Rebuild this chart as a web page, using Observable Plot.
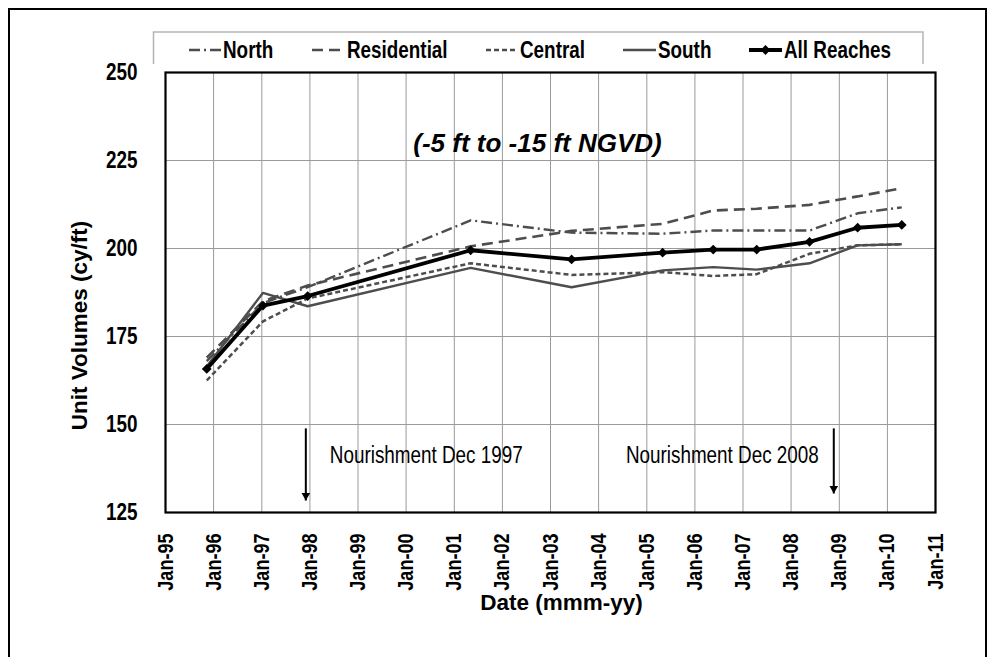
<!DOCTYPE html>
<html><head><meta charset="utf-8">
<script src="https://cdn.jsdelivr.net/npm/d3@7"></script>
<script src="https://cdn.jsdelivr.net/npm/@observablehq/plot@0.6"></script>
<style>
html,body{margin:0;padding:0;background:#fff;}
#wrap{position:relative;width:999px;height:657px;overflow:hidden;background:#fff;}
#wrap svg{position:absolute;left:0;top:0;}
</style></head><body><div id="wrap"></div>
<script>
// ---- data ----
const surveyDates = ["1995-11-10","1997-01-10","1997-12-15","2001-05-05","2003-06-10","2005-05-01","2006-05-20","2007-04-15","2008-05-20","2009-05-20","2010-04-20"];
const north       = [168.0, 184.5, 189.0, 208.0, 204.5, 204.2, 205.1, 205.1, 205.1, 210.0, 211.7];
const residential = [169.0, 185.0, 189.5, 200.6, 205.0, 207.0, 210.8, 211.3, 212.4, 214.8, 217.1];
const central     = [162.5, 179.3, 185.8, 195.8, 192.5, 193.3, 192.2, 192.7, 198.5, 200.9, 201.2];
const south       = [166.5, 187.4, 183.6, 194.5, 189.0, 193.8, 194.7, 194.0, 195.8, 200.9, 201.2];
const allReaches  = [165.8, 183.8, 186.5, 199.5, 196.9, 198.8, 199.7, 199.7, 201.9, 205.9, 206.7];
const seriesNames = ["North","Residential","Central","South","All Reaches"];
const yTicks = [125, 150, 175, 200, 225, 250];
const yGrid = [150, 175, 200, 225];
const xTickYears = d3.range(1995, 2012);
const noteDates = ["1997-12-01","2008-11-20"];
const noteLabels = ["Nourishment Dec 1997","Nourishment Dec 2008"];
const noteTextValue = [141.2, 141.2];
const arrowTop = [148.9, 148.9];
const arrowTip = [128.4, 130.4];
const chartTitle = "(-5 ft to -15 ft NGVD)";
const yTitle = "Unit Volumes (cy/ft)";
const xTitle = "Date (mmm-yy)";

// ---- tables ----
const rows = (vals) => surveyDates.map((d, i) => ({date: new Date(d), value: vals[i]}));
const xTickDates = xTickYears.map(y => new Date(Date.UTC(y, 0, 1)));
const xTickLabels = xTickDates.map(d => "Jan-" + d3.utcFormat("%y")(d));
const notes = noteDates.map((d, i) => ({date: new Date(d), label: noteLabels[i], y: noteTextValue[i], y1: arrowTop[i], y2: arrowTip[i]}));

const gray = "#4d4d4d";
const styles = {
  "North": {stroke: gray, strokeWidth: 2.4, dash: "11,4,2,4"},
  "Residential": {stroke: gray, strokeWidth: 2.6, dash: "11,6"},
  "Central": {stroke: gray, strokeWidth: 2.5, dash: "5,3"},
  "South": {stroke: gray, strokeWidth: 2.4, dash: null},
  "All Reaches": {stroke: "#000", strokeWidth: 3.8, dash: null}
};
const seriesVals = [north, residential, central, south, allReaches];

const FONT = "'Liberation Sans', Arial, Helvetica, sans-serif";
const NARROW = "'Liberation Sans Narrow', 'Arial Narrow', 'Liberation Sans', Arial, sans-serif";

const lineMarks = seriesNames.map((n, i) => Plot.line(rows(seriesVals[i]), {
  x: "date", y: "value", stroke: styles[n].stroke, strokeWidth: styles[n].strokeWidth,
  strokeDasharray: styles[n].dash || undefined, strokeLinejoin: "miter", strokeLinecap: "butt"
}));

const chart = Plot.plot({
  width: 999, height: 657,
  marginLeft: 165, marginRight: 64, marginTop: 72, marginBottom: 145,
  style: {fontFamily: FONT, background: "transparent", color: "#000"},
  x: {type: "utc", domain: [xTickDates[0], xTickDates[xTickDates.length - 1]]},
  y: {domain: [125, 250]},
  marks: [
    Plot.gridX(xTickDates, {stroke: "#9a9a9a", strokeOpacity: 1, strokeWidth: 1}),
    Plot.gridY(yGrid, {stroke: "#9a9a9a", strokeOpacity: 1, strokeWidth: 1}),
    Plot.text([chartTitle], {text: d => d, frameAnchor: "top", dx: -13, dy: 71, lineAnchor: "middle", textAnchor: "middle",
      fontSize: 26, fontWeight: "bold", fontStyle: "italic", fill: "#000"}),
    Plot.link(notes, {x1: "date", x2: "date", y1: "y1", y2: "y2", stroke: "#000", strokeWidth: 2}),
    Plot.dot(notes, {x: "date", y: "y2", symbol: "triangle", r: 3.2, rotate: 180, dy: -5, fill: "#000", stroke: "none"}),
    Plot.text(notes.slice(0, 1), {x: "date", y: "y", text: "label", textAnchor: "start", dx: 24, fontSize: 23, fontFamily: NARROW, fill: "#000"}),
    Plot.text(notes.slice(1), {x: "date", y: "y", text: "label", textAnchor: "end", dx: -15, fontSize: 23, fontFamily: NARROW, fill: "#000"}),
    ...lineMarks,
    Plot.dot(rows(allReaches), {x: "date", y: "value", symbol: "diamond2", r: 4.4, fill: "#000", stroke: "none"}),
    Plot.axisX(xTickDates, {tickRotate: -90, tickSize: 0, tickPadding: 21, tickFormat: d => "Jan-" + d3.utcFormat("%y")(d),
      fontSize: 22, fontWeight: "bold", fontFamily: NARROW, label: null, fill: "#000"}),
    Plot.axisY(yTicks, {tickSize: 0, tickPadding: 28, fontSize: 23, fontWeight: "bold", fontFamily: NARROW, label: null, fill: "#000"}),
    Plot.frame({stroke: "#000", strokeWidth: 2.2}),
    Plot.text([yTitle], {text: d => d, frameAnchor: "left", rotate: -90, dx: -86, dy: 33, textAnchor: "middle", lineAnchor: "middle",
      fontSize: 22.5, fontWeight: "bold", fill: "#000"}),
    Plot.text([xTitle], {text: d => d, frameAnchor: "bottom", dx: 11, dy: 90, textAnchor: "middle", lineAnchor: "middle",
      fontSize: 22.5, fontWeight: "bold", fill: "#000"})
  ]
});
const wrap = document.getElementById("wrap");
wrap.appendChild(chart);

// narrow-font detection
function hasFont(f) {
  const c = document.createElement("canvas").getContext("2d");
  c.font = "bold 40px monospace"; const a = c.measureText("Residential 1997").width;
  c.font = `bold 40px '${f}', monospace`; const b = c.measureText("Residential 1997").width;
  return Math.abs(a - b) > 0.5;
}
const narrowOK = hasFont("Liberation Sans Narrow") || hasFont("Arial Narrow");
function narrowize(el) {
  if (narrowOK) return;
  const w = el.getComputedTextLength();
  el.setAttribute("textLength", (w * 0.82).toFixed(1));
  el.setAttribute("lengthAdjust", "spacingAndGlyphs");
}
const yTickLabels = yTicks.map(String);
const svg = d3.select(chart);
svg.selectAll("text").each(function() {
  const t = this.textContent;
  if (noteLabels.includes(t) || xTickLabels.includes(t) || yTickLabels.includes(t)) narrowize(this);
  if (t === chartTitle) {
    const bb = this.getBBox();
    d3.select(this.parentNode).insert("rect", () => this)
      .attr("x", bb.x - 9).attr("y", bb.y - 5).attr("width", bb.width + 18).attr("height", bb.height + 8)
      .attr("fill", "#fff");
  }
});

// legend + outer border overlay
const ov = d3.select(wrap).append("svg").attr("width", 999).attr("height", 657).style("pointer-events", "none");
ov.append("path").attr("d", "M9,660V9H986V660").attr("fill", "none").attr("stroke", "#000").attr("stroke-width", 2);
ov.append("path").attr("d", "M153.5,64V32H923V64").attr("fill", "none").attr("stroke", "#b5b5b5").attr("stroke-width", 1.5);
const legendLayout = [
  {x0: 189, x1: 221, tx: 223},
  {x0: 312, x1: 341, tx: 347},
  {x0: 486, x1: 518, tx: 520},
  {x0: 623, x1: 656, tx: 658},
  {x0: 749, x1: 782, tx: 784}
];
const ly = 50;
seriesNames.forEach((n, i) => {
  const L = legendLayout[i], s = styles[n];
  const ln = ov.append("line").attr("x1", L.x0).attr("x2", L.x1).attr("y1", ly).attr("y2", ly)
    .attr("stroke", s.stroke).attr("stroke-width", s.strokeWidth);
  if (s.dash) ln.attr("stroke-dasharray", s.dash);
  if (n === "All Reaches") {
    ov.append("path").attr("d", d3.symbol(d3.symbolDiamond2, 4.4 * 4.4 * Math.PI)())
      .attr("transform", `translate(${(L.x0 + L.x1) / 2},${ly})`).attr("fill", "#000");
  }
  const t = ov.append("text").attr("x", L.tx).attr("y", ly).attr("dy", "0.36em")
    .attr("font-family", NARROW).attr("font-weight", "bold").attr("font-size", 23).attr("fill", "#000").text(n);
  narrowize(t.node());
});
</script></body></html>
